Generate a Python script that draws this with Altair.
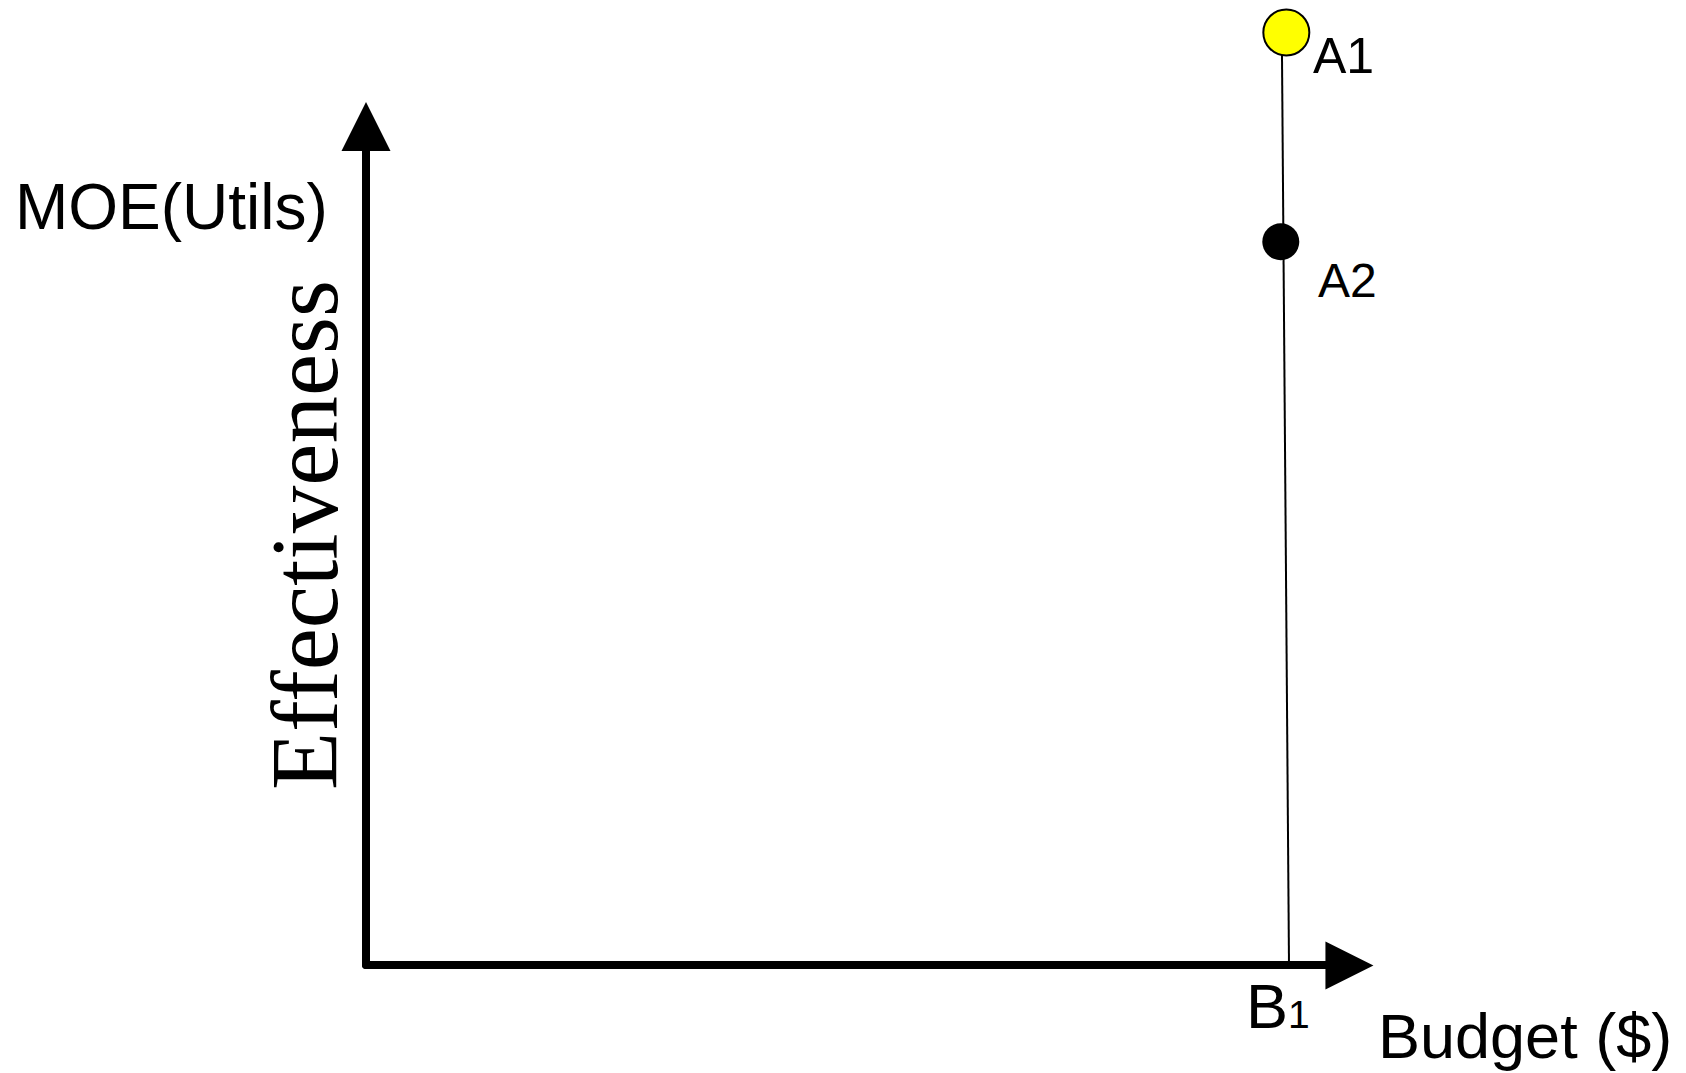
import altair as alt
import pandas as pd

# ---------------- data (conceptual units: B1 budget = 1, y-axis length = 1) -------------
axis_x_budget = [0.0, 1.045]          # horizontal (Budget) axis shaft
axis_x_moe = [0.0, 0.0]
axis_y_budget = [0.0, 0.0]            # vertical (MOE) axis shaft
axis_y_moe = [0.0, 0.95]

arrow_names = ["budget_arrow", "moe_arrow"]
arrow_budget = [1.0655, 0.0]
arrow_moe = [-0.0006, 0.9716]

b1_line_budget = [1.0, 0.9924]        # vertical line at budget B1
b1_line_moe = [0.0, 1.0545]

point_labels = ["A1", "A2"]
point_budget = [0.9971, 0.9911]
point_moe = [1.0806, 0.8381]

label_texts = ["A1", "A2"]
label_budget = [1.026, 1.0314]
label_moe = [1.0336, 0.7740]
label_sizes = [50, 48]

axis_texts = ["MOE(Utils)", "B", "1", "Budget ($)"]
axis_text_budget = [-0.3803, 0.9534, 0.9989, 1.0964]
axis_text_moe = [0.8528, -0.0730, -0.0730, -0.1078]
axis_text_sizes = [64, 63, 39, 63]

eff_text = ["Effectiveness"]
eff_budget = [-0.0314]
eff_moe = [0.4983]

# ---------------- layout ------------------------------------------------------------------
W, H = 1670, 1065
ORIGIN_X, ORIGIN_Y = 358, 957      # origin in plot pixels
UX, UY = 923, 863                  # pixels per unit
XMIN, XMAX = -ORIGIN_X / UX, (W - ORIGIN_X) / UX
YMIN, YMAX = -(H - ORIGIN_Y) / UY, ORIGIN_Y / UY

xs = alt.Scale(domain=[XMIN, XMAX], nice=False, zero=False)
ys = alt.Scale(domain=[YMIN, YMAX], nice=False, zero=False)


def X(f="x"):
    return alt.X(f"{f}:Q", scale=xs, axis=None)


def Y(f="y"):
    return alt.Y(f"{f}:Q", scale=ys, axis=None)


SANS = "Liberation Sans"
SERIF = "Liberation Serif"

# axis shafts
axes_df = pd.DataFrame({
    "x": axis_x_budget + axis_y_budget,
    "y": axis_x_moe + axis_y_moe,
    "axis": ["x", "x", "y", "y"],
    "o": [0, 1, 0, 1],
})
axes = alt.Chart(axes_df).mark_line(
    color="black", strokeWidth=8, strokeCap="round", strokeJoin="round", clip=False
).encode(x=X(), y=Y(), detail="axis:N", order="o:Q")

# arrow heads
arr_df = pd.DataFrame({"x": arrow_budget, "y": arrow_moe, "name": arrow_names})
arrow_right = alt.Chart(arr_df[arr_df.name == "budget_arrow"]).mark_point(
    shape="M1,0L-1,1L-1,-1Z", filled=True, color="black", opacity=1, size=2304, strokeWidth=0
).encode(x=X(), y=Y())
arrow_up = alt.Chart(arr_df[arr_df.name == "moe_arrow"]).mark_point(
    shape="M0,-1L1,1L-1,1Z", filled=True, color="black", opacity=1, size=2401, strokeWidth=0
).encode(x=X(), y=Y())

# thin vertical line at B1
b1_df = pd.DataFrame({"x": b1_line_budget, "y": b1_line_moe, "o": [0, 1]})
b1_line = alt.Chart(b1_df).mark_line(color="black", strokeWidth=2, clip=False).encode(
    x=X(), y=Y(), order="o:Q"
)

# points
pts_df = pd.DataFrame({"x": point_budget, "y": point_moe, "label": point_labels})
a1 = alt.Chart(pts_df[pts_df.label == "A1"]).mark_point(
    shape="circle", filled=True, fill="#FFFF00", stroke="black", strokeWidth=2,
    opacity=1, size=2116, clip=False
).encode(x=X(), y=Y())
a2 = alt.Chart(pts_df[pts_df.label == "A2"]).mark_point(
    shape="circle", filled=True, fill="black", stroke="black", strokeWidth=0,
    opacity=1, size=1369
).encode(x=X(), y=Y())

# point labels
lab_df = pd.DataFrame({"x": label_budget, "y": label_moe, "t": label_texts,
                       "fs": label_sizes})
labels = alt.Chart(lab_df).mark_text(
    font=SANS, align="left", baseline="alphabetic", color="black"
).encode(x=X(), y=Y(), text="t:N", size=alt.Size("fs:Q", scale=None, legend=None))

# axis texts
txt_df = pd.DataFrame({"x": axis_text_budget, "y": axis_text_moe, "t": axis_texts,
                       "fs": axis_text_sizes})
texts = alt.Chart(txt_df).mark_text(
    font=SANS, align="left", baseline="alphabetic", color="black"
).encode(x=X(), y=Y(), text="t:N", size=alt.Size("fs:Q", scale=None, legend=None))

eff_df = pd.DataFrame({"x": eff_budget, "y": eff_moe, "t": eff_text})
eff = alt.Chart(eff_df).mark_text(
    font=SERIF, fontSize=95, angle=270, align="center", baseline="alphabetic",
    color="black"
).encode(x=X(), y=Y(), text="t:N")

chart = alt.layer(
    axes, arrow_right, arrow_up, b1_line, a1, a2, labels, texts, eff
).properties(
    width=W, height=H, padding=0, autosize=alt.AutoSizeParams(type="none")
).configure(background="white").configure_view(strokeWidth=0, stroke="transparent")

chart.save("out.html", embed_options={"renderer": "svg", "actions": False})
